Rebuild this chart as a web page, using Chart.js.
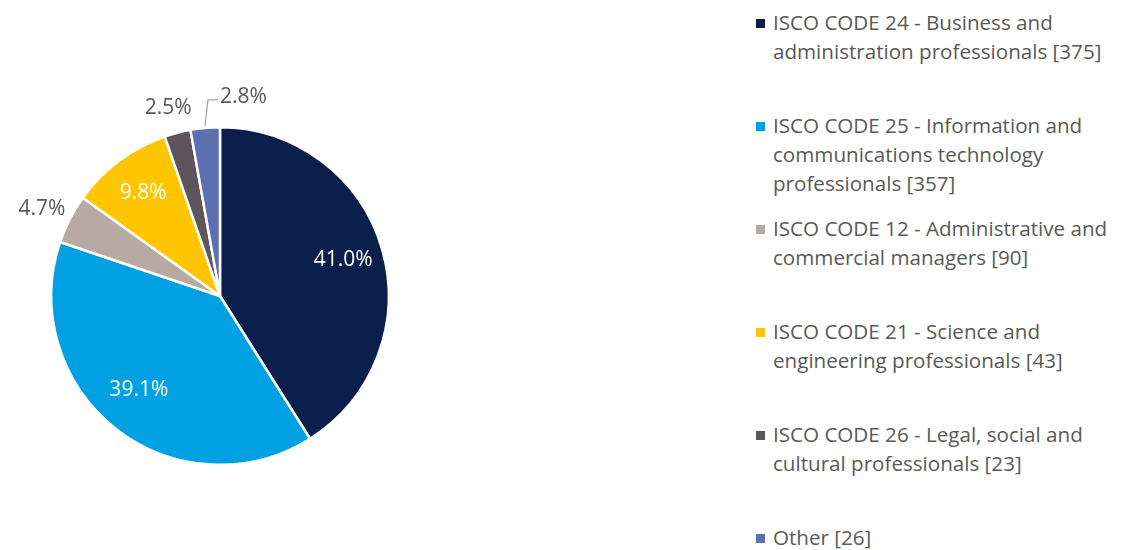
<!DOCTYPE html>
<html>
<head>
<meta charset="utf-8">
<script src="https://cdn.jsdelivr.net/npm/chart.js@4"></script>
<style>
  body { margin: 0; background: #fff; font-family: "Open Sans", sans-serif; }
  #wrap { position: relative; width: 1122px; height: 550px; }
  #pie { position: absolute; left: 0; top: 0; width: 440px; height: 550px; }
  #legend { position: absolute; left: 755px; top: 0; margin: 0; padding: 0; list-style: none; }
  #legend li { position: relative; height: 103px; padding-left: 18px; color: #595959; font-size: 20.6px; line-height: 29px; box-sizing: border-box; padding-top: 8px; }
  #legend li span.box { position: absolute; left: 1px; top: 19px; width: 9px; height: 9px; }
</style>
</head>
<body>
<div id="wrap">
  <div id="pie"><canvas id="c"></canvas></div>
  <ul id="legend"></ul>
</div>
<script>
const categories = [
  ['ISCO CODE 24 - Business and', 'administration professionals [375]'],
  ['ISCO CODE 25 - Information and', 'communications technology', 'professionals [357]'],
  ['ISCO CODE 12 - Administrative and', 'commercial managers [90]'],
  ['ISCO CODE 21 - Science and', 'engineering professionals [43]'],
  ['ISCO CODE 26 - Legal, social and', 'cultural professionals [23]'],
  ['Other [26]'],
];
const shares = [41.0, 39.1, 4.7, 9.8, 2.5, 2.8];
const colors = ['#0a1f4b', '#00a0e2', '#b8aaa2', '#ffc600', '#5f545c', '#5e6fb0'];

// legend
const legend = document.getElementById('legend');
categories.forEach((lines, i) => {
  const li = document.createElement('li');
  li.innerHTML = `<span class="box" style="background:${colors[i]}"></span>` + lines.join('<br>');
  legend.appendChild(li);
});

// percentage labels: inside for large slices, outside for small ones
const pctLabels = {
  id: 'pctLabels',
  afterDatasetsDraw(chart) {
    const { ctx } = chart;
    const arcs = chart.getDatasetMeta(0).data;
    ctx.save();
    ctx.font = '21px "Open Sans"';
    ctx.textAlign = 'center';
    ctx.textBaseline = 'middle';
    arcs.forEach((arc, i) => {
      const v = shares[i];
      const mid = (arc.startAngle + arc.endAngle) / 2;
      const r = arc.outerRadius;
      const text = v.toFixed(1) + '%';
      if (v > 5) {
        ctx.fillStyle = '#fff';
        const k = i === 1 ? 0.73 : 0.76;
        ctx.fillText(text, arc.x + Math.cos(mid) * r * k - (i === 1 ? 5 : 0), arc.y + Math.sin(mid) * r * k - (i === 1 ? 3 : 0));
      } else if (i === shares.length - 1) {
        // pulled-out label with leader line
        const ex = arc.x + Math.cos(mid) * (r + 2);
        const ey = arc.y + Math.sin(mid) * (r + 2);
        ctx.strokeStyle = '#a6a6a6';
        ctx.lineWidth = 1.3;
        ctx.beginPath();
        ctx.moveTo(ex, ey);
        ctx.lineTo(ex + 3, ey - 26);
        ctx.lineTo(ex + 13, ey - 26);
        ctx.stroke();
        ctx.fillStyle = '#595959';
        ctx.textAlign = 'left';
        ctx.fillText(text, ex + 15, ey - 29);
        ctx.textAlign = 'center';
      } else {
        ctx.fillStyle = '#595959';
        const d = r + 29;
        ctx.fillText(text, arc.x + Math.cos(mid) * d - 2, arc.y + Math.sin(mid) * d + 3);
      }
    });
    ctx.restore();
  },
};

new Chart(document.getElementById('c'), {
  type: 'pie',
  data: {
    labels: categories.map((l) => l.join(' ')),
    datasets: [{
      data: shares,
      backgroundColor: colors,
      borderColor: '#fff',
      borderWidth: 2.5,
      hoverOffset: 0,
    }],
  },
  options: {
    responsive: true,
    maintainAspectRatio: false,
    animation: false,
    layout: { padding: { top: 126, bottom: 84, left: 0, right: 0 } },
    plugins: {
      legend: { display: false },
      tooltip: { enabled: false },
    },
  },
  plugins: [pctLabels],
});
</script>
</body>
</html>
